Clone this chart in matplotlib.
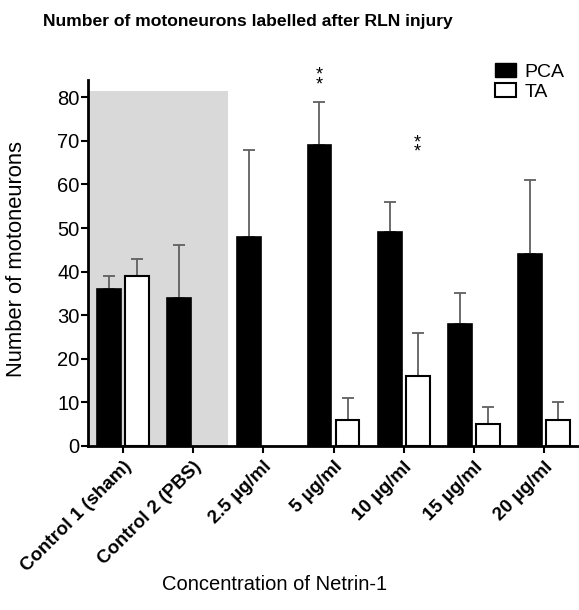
import numpy as np
import matplotlib
matplotlib.use('Agg')
import matplotlib.pyplot as plt
from matplotlib.patches import Patch

plt.rcParams['font.family'] = ['Liberation Sans', 'DejaVu Sans']

groups = ['Control 1 (sham)', 'Control 2 (PBS)', '2.5 \u00b5g/ml', '5 \u00b5g/ml',
          '10 \u00b5g/ml', '15 \u00b5g/ml', '20 \u00b5g/ml']
pca_mean = [36, 34, 48, 69, 49, 28, 44]
pca_err = [3, 12, 20, 10, 7, 7, 17]
ta_mean = [39, None, None, 6, 16, 5, 6]
ta_err = [4, None, None, 5, 10, 4, 4]
# "**" marks: (group index, series, y level)
stars = [(3, 'PCA', 84), (4, 'TA', 68.5)]

x = np.arange(len(groups))
w = 0.34
off = 0.2

fig = plt.figure(figsize=(5.79, 6.10), dpi=100)
ax = fig.add_axes([0.152, 0.269, 0.848, 0.6])

# shaded controls region
ax.axvspan(-0.5, 1.5, ymin=0, ymax=81.5 / 84, color='#d9d9d9', lw=0, zorder=0)

ax.bar(x - off, pca_mean, w, color='black', edgecolor='black', lw=1.2, zorder=2)
ax.errorbar(x - off, pca_mean, yerr=[np.zeros(len(x)), pca_err], fmt='none',
            ecolor='#606060', elinewidth=1.3, capsize=4, capthick=1.3, zorder=1)

ta_x = [xi + off for xi, m in zip(x, ta_mean) if m is not None]
ta_m = [m for m in ta_mean if m is not None]
ta_e = [e for e in ta_err if e is not None]
ax.bar(ta_x, ta_m, w, color='white', edgecolor='black', lw=1.5, zorder=2)
ax.errorbar(ta_x, ta_m, yerr=[np.zeros(len(ta_x)), ta_e], fmt='none',
            ecolor='#606060', elinewidth=1.3, capsize=4, capthick=1.3, zorder=1)

for g, series, lv in stars:
    xs = g - off if series == 'PCA' else g + off
    ax.text(xs, lv, '*\n*', ha='center', va='center', fontsize=13,
            linespacing=0.45, clip_on=False)

ax.set_xlim(-0.5, 6.5)
ax.set_ylim(0, 84)
ax.set_yticks(np.arange(0, 81, 10))
ax.set_xticks(x)
ax.set_xticklabels(groups, rotation=45, ha='right', rotation_mode='anchor',
                   fontweight='bold', fontsize=13.5)
ax.tick_params(axis='y', labelsize=14.5, width=1.5, length=5, direction='out', pad=1)
ax.tick_params(axis='x', width=1.5, length=5, direction='out', pad=4)

for s in ['top', 'right']:
    ax.spines[s].set_visible(False)
for s in ['left', 'bottom']:
    ax.spines[s].set_linewidth(2)

ax.set_ylabel('Number of motoneurons', fontsize=15.8)
ax.yaxis.set_label_coords(-0.124, 0.511)
fig.text(0.475, 0.032, 'Concentration of Netrin-1', ha='center', fontsize=14.5)
fig.text(0.428, 0.958, 'Number of motoneurons labelled after RLN injury',
         ha='center', fontsize=12.6, fontweight='bold')

handles = [Patch(facecolor='black', edgecolor='black', label='PCA'),
           Patch(facecolor='white', edgecolor='black', lw=1.5, label='TA')]
ax.legend(handles=handles, loc='upper left', bbox_to_anchor=(0.828, 1.045),
          frameon=False, fontsize=14, handlelength=1.1, handleheight=0.7,
          handletextpad=0.45, labelspacing=0.1, borderaxespad=0, borderpad=0)

fig.savefig('out.png', dpi=100)
